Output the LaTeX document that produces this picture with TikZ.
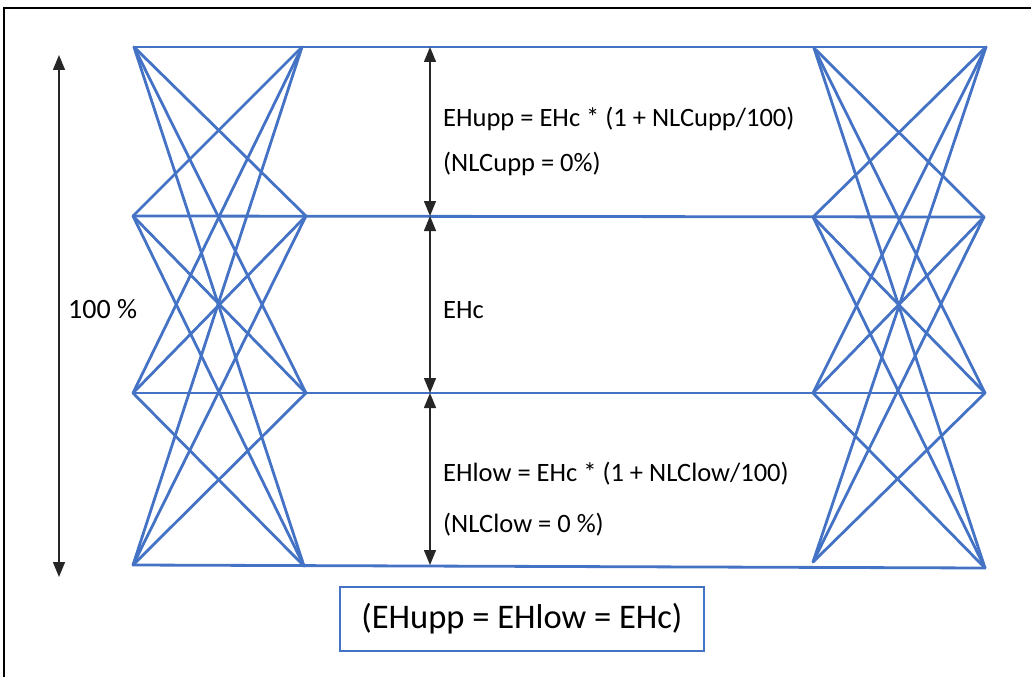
\documentclass[tikz,border=0pt]{standalone}
\usepackage{fontspec}
\setmainfont{Carlito}
\usetikzlibrary{arrows.meta}
\definecolor{trussblue}{HTML}{4472C4}
\begin{document}
\begin{tikzpicture}[x=1pt,y=-1pt,
  truss/.style={draw=trussblue,line width=2.8pt,line cap=round},
  dimarrow/.style={draw=black!85,line width=1.4pt,{Triangle[length=15pt,width=12pt]}-{Triangle[length=15pt,width=12pt]}},
  lbl/.style={font=\fontsize{26.5}{31}\selectfont,inner sep=0pt,anchor=base west},
  bigbox/.style={draw=trussblue,line width=1.8pt,minimum width=364pt,minimum height=64pt,inner sep=0pt,font=\fontsize{34.5}{40}\selectfont}]
\clip (0,0) rectangle (1031,677);
\draw[line width=2.2pt] (4,8) rectangle (1045,700);
% left truss
\coordinate (a1) at (134,47); \coordinate (b1) at (302,47);
\coordinate (a2) at (133,216); \coordinate (b2) at (306,216);
\coordinate (a3) at (133,393); \coordinate (b3) at (306,393);
\coordinate (a4) at (133,565); \coordinate (b4) at (304,566);
% right truss
\coordinate (c1) at (814,48); \coordinate (d1) at (986,47);
\coordinate (c2) at (813,217); \coordinate (d2) at (984,217);
\coordinate (c3) at (813,393); \coordinate (d3) at (985,393);
\coordinate (c4) at (813,562); \coordinate (d4) at (985,568);
\foreach \i in {1,2,3,4}{
  \foreach \j in {1,2,3,4}{
    \ifnum\i=\j\relax\else
      \draw[truss] (a\i) -- (b\j);
      \draw[truss] (c\i) -- (d\j);
    \fi
  }
}
% horizontal levels
\draw[truss] (a1) -- (d1);
\draw[truss] (a2) -- (d2);
\draw[truss] (a3) -- (d3);
\draw[truss] (a4) -- (d4);
% dimension points
\coordinate (m1) at (430,47);
\coordinate (m2) at (430,216);
\coordinate (m3) at (430,393);
\coordinate (m4) at (430,565);
\coordinate (t100) at (59,55);
\coordinate (b100) at (59,577);
\draw[dimarrow] (m1) -- (m2);
\draw[dimarrow] (m2) -- (m3);
\draw[dimarrow] (m3) -- (m4);
\draw[dimarrow] (t100) -- (b100);
% labels
\node[lbl,font=\fontsize{28}{32}\selectfont] (l100) at (68,318) {100 \%};
\node[lbl] (eupp) at (443,126) {EHupp = EHc * (1 + NLCupp/100)};
\node[lbl] (nupp) at (443,171) {(NLCupp = 0\%)};
\node[lbl] (ehc) at (443,318) {EHc};
\node[lbl] (elow) at (443,481) {EHlow = EHc * (1 + NLClow/100)};
\node[lbl] (nlow) at (443,532) {(NLClow = 0 \%)};
\node[bigbox] (summary) at (522,619) {(EHupp = EHlow = EHc)};
\end{tikzpicture}
\end{document}
